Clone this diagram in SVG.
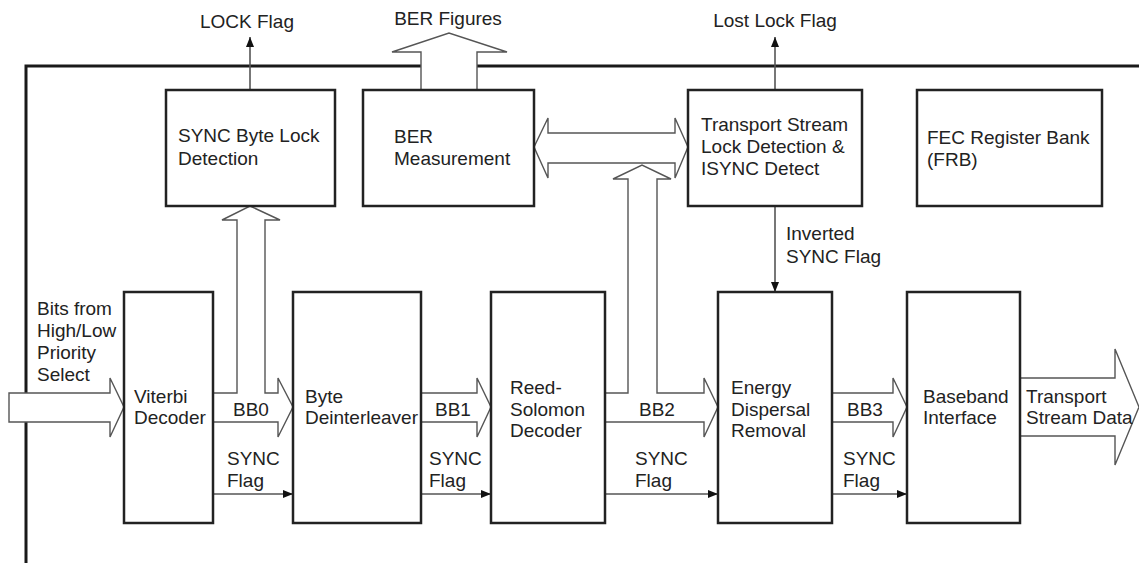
<svg xmlns="http://www.w3.org/2000/svg" width="1139" height="563" viewBox="0 0 1139 563">
<defs>
<style>
.box{fill:#fff;stroke:#222;stroke-width:2.5}
.frame{fill:none;stroke:#1a1a1a;stroke-width:3}
.big{fill:#fff;stroke:#555;stroke-width:1.4;stroke-linejoin:miter}
.ln{fill:none;stroke:#555;stroke-width:1.6}
text{font-family:"Liberation Sans",Arial,sans-serif;font-size:19px;fill:#222}
</style>
<marker id="ah" viewBox="0 0 10 8" refX="10" refY="4" markerWidth="10" markerHeight="8" markerUnits="userSpaceOnUse" orient="auto">
<path d="M0,0 L10,4 L0,8 z" fill="#111"/>
</marker>
</defs>

<g id="frame">
<path class="frame" d="M26,563 L26,66 L421,66 M477,66 L1139,66"/>
</g>

<g id="connectors">
<!-- LOCK flag -->
<line class="ln" x1="250" y1="90" x2="250" y2="37" marker-end="url(#ah)"/>
<!-- Lost lock flag -->
<line class="ln" x1="775" y1="90" x2="775" y2="37" marker-end="url(#ah)"/>
<!-- Inverted SYNC flag -->
<line class="ln" x1="775" y1="206" x2="775" y2="292" marker-end="url(#ah)"/>
<!-- BER Figures -->
<path class="big" d="M421,90 L421,52 L392,52 L449,33 L507,52 L477,52 L477,90"/>
<!-- BER <-> TS double arrow -->
<path class="big" d="M534,147 L548,118 L548,133 L675,133 L675,118 L688,147 L675,178 L675,163 L548,163 L548,178 Z"/>
<!-- Input arrow -->
<path class="big" d="M9,393 L110,393 L110,378 L124,407 L110,437 L110,422 L9,422 Z"/>
<!-- BB0 with branch to SYNC byte lock -->
<path class="big" d="M213,393 L237,393 L237,220 L222,220 L250,206 L280,220 L265,220 L265,393 L278,393 L278,378 L293,407 L278,437 L278,422 L213,422"/>
<!-- BB1 -->
<path class="big" d="M421,393 L477,393 L477,378 L491,407 L477,437 L477,422 L421,422"/>
<!-- BB2 with branch to TS lock -->
<path class="big" d="M605,393 L628,393 L628,179 L613,179 L642,165 L671,179 L657,179 L657,393 L704,393 L704,378 L718,407 L704,437 L704,422 L605,422"/>
<!-- BB3 -->
<path class="big" d="M832,393 L893,393 L893,378 L907,407 L893,437 L893,422 L832,422"/>
<!-- Output -->
<path class="big" d="M1020,378 L1115,378 L1115,349 L1139,407 L1115,465 L1115,436 L1020,436"/>
<!-- SYNC flags -->
<line class="ln" x1="213" y1="494" x2="293" y2="494" marker-end="url(#ah)"/>
<line class="ln" x1="421" y1="494" x2="491" y2="494" marker-end="url(#ah)"/>
<line class="ln" x1="605" y1="494" x2="718" y2="494" marker-end="url(#ah)"/>
<line class="ln" x1="832" y1="494" x2="907" y2="494" marker-end="url(#ah)"/>
</g>

<g id="labels">
<text x="247" y="28" text-anchor="middle">LOCK Flag</text>
<text x="448" y="25" text-anchor="middle">BER Figures</text>
<text x="775" y="27" text-anchor="middle">Lost Lock Flag</text>
<text x="786" y="240">Inverted</text>
<text x="786" y="263">SYNC Flag</text>
<text x="37" y="315">Bits from</text>
<text x="37" y="337">High/Low</text>
<text x="37" y="359">Priority</text>
<text x="37" y="381">Select</text>
<text x="233" y="416">BB0</text>
<text x="435" y="416">BB1</text>
<text x="639" y="416">BB2</text>
<text x="847" y="416">BB3</text>
<text x="227" y="465">SYNC</text><text x="227" y="487">Flag</text>
<text x="429" y="465">SYNC</text><text x="429" y="487">Flag</text>
<text x="635" y="465">SYNC</text><text x="635" y="487">Flag</text>
<text x="843" y="465">SYNC</text><text x="843" y="487">Flag</text>
<text x="1026" y="403">Transport</text>
<text x="1026" y="424">Stream Data</text>
</g>

<g id="sync-byte-lock">
<rect class="box" x="166" y="90" width="169" height="116"/>
<text x="178" y="142">SYNC Byte Lock</text>
<text x="178" y="165">Detection</text>
</g>
<g id="ber-measurement">
<rect class="box" x="363" y="90" width="171" height="116"/>
<text x="394" y="143">BER</text>
<text x="394" y="165">Measurement</text>
</g>
<g id="ts-lock">
<rect class="box" x="688" y="90" width="174" height="116"/>
<text x="701" y="131">Transport Stream</text>
<text x="701" y="153">Lock Detection &amp;</text>
<text x="701" y="175">ISYNC Detect</text>
</g>
<g id="frb">
<rect class="box" x="917" y="90" width="185" height="116"/>
<text x="927" y="144">FEC Register Bank</text>
<text x="927" y="166">(FRB)</text>
</g>
<g id="viterbi">
<rect class="box" x="124" y="292" width="89" height="231"/>
<text x="134" y="403">Viterbi</text>
<text x="134" y="424">Decoder</text>
</g>
<g id="deinterleaver">
<rect class="box" x="293" y="292" width="128" height="231"/>
<text x="305" y="403">Byte</text>
<text x="305" y="424">Deinterleaver</text>
</g>
<g id="reed-solomon">
<rect class="box" x="491" y="292" width="114" height="231"/>
<text x="510" y="394">Reed-</text>
<text x="510" y="416">Solomon</text>
<text x="510" y="437">Decoder</text>
</g>
<g id="energy">
<rect class="box" x="718" y="292" width="114" height="231"/>
<text x="731" y="394">Energy</text>
<text x="731" y="416">Dispersal</text>
<text x="731" y="437">Removal</text>
</g>
<g id="baseband">
<rect class="box" x="907" y="292" width="113" height="231"/>
<text x="923" y="403">Baseband</text>
<text x="923" y="424">Interface</text>
</g>
</svg>
